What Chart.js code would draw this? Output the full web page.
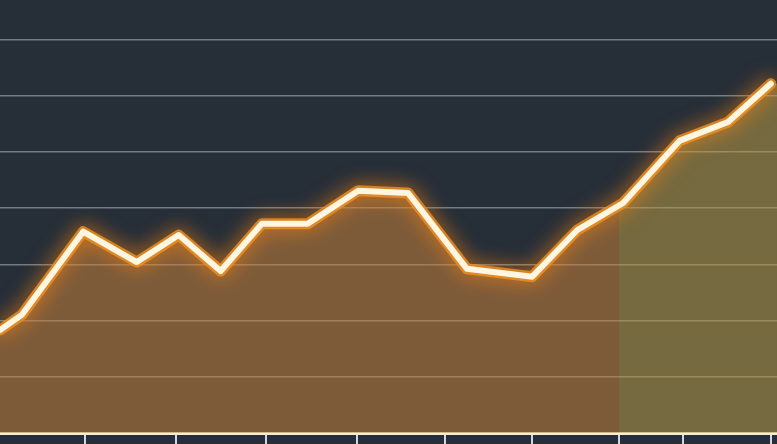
<!DOCTYPE html>
<html>
<head>
<meta charset="utf-8">
<style>
  html, body { margin: 0; padding: 0; background: #262e38; }
  #wrap { width: 777px; height: 444px; position: relative; }
</style>
<script src="https://cdn.jsdelivr.net/npm/chart.js@4/dist/chart.umd.min.js"></script>
</head>
<body>
<div id="wrap"><canvas id="c" width="777" height="444"></canvas></div>
<script>
// x positions (0–100 scale across the plot) and values (axis units, gridlines every 10)
const xValues = [0, 2.8, 10.7, 17.6, 23.0, 28.4, 33.7, 39.6, 46.1, 52.5, 60.1, 68.5, 74.3, 80.2, 87.5, 93.7, 99.2];
const yValues = [18.3, 21.0, 35.8, 30.4, 35.2, 28.8, 37.2, 37.2, 43.1, 42.7, 29.2, 27.8, 36.1, 40.9, 52.0, 55.3, 62.1];
const xTickValues = [10.9, 22.7, 34.2, 45.9, 57.3, 68.5, 79.7, 87.9, 99.2];
const yTickValues = [10, 20, 30, 40, 50, 60, 70];
const splitX = 79.7; // where the shaded (forecast) region begins
const xMax = 100;

const points = xValues.map((x, i) => ({ x: x, y: yValues[i] }));
// the shaded area continues flat to the right edge of the plot
const fillPoints = points.concat([{ x: xMax, y: yValues[yValues.length - 1] }]);

const brown = 'rgba(200,130,60,0.54)';
const olive = 'rgba(186,156,70,0.54)';

function splitFill(context) {
  const chart = context.chart;
  const area = chart.chartArea;
  if (!area) return brown;
  const xb = chart.scales.x.getPixelForValue(splitX);
  const g = chart.ctx.createLinearGradient(area.left, 0, area.right, 0);
  const f = Math.min(1, Math.max(0, (xb - area.left) / (area.right - area.left)));
  g.addColorStop(0, brown);
  g.addColorStop(f, brown);
  g.addColorStop(Math.min(1, f + 0.0001), olive);
  g.addColorStop(1, olive);
  return g;
}

const glowPlugin = {
  id: 'glow',
  beforeDatasetDraw(chart, args) {
    if (args.index === 1) {
      chart.ctx.save();
      chart.ctx.shadowColor = 'rgba(255,135,15,1)';
      chart.ctx.shadowBlur = 20;
    }
  },
  afterDatasetDraw(chart, args) {
    if (args.index === 1) chart.ctx.restore();
  }
};

new Chart(document.getElementById('c'), {
  type: 'line',
  data: {
    datasets: [
      {
        data: fillPoints,
        order: 3,
        fill: 'origin',
        backgroundColor: splitFill,
        borderWidth: 0,
        borderColor: 'rgba(0,0,0,0)',
        pointRadius: 0,
        tension: 0
      },
      {
        data: points,
        order: 2,
        fill: false,
        borderColor: 'rgba(240,145,35,0.8)',
        borderWidth: 11,
        borderJoinStyle: 'round',
        borderCapStyle: 'round',
        pointRadius: 0,
        tension: 0
      },
      {
        data: points,
        order: 1,
        fill: false,
        borderColor: '#fff6e2',
        borderWidth: 6,
        borderJoinStyle: 'round',
        borderCapStyle: 'round',
        pointRadius: 0,
        tension: 0
      }
    ]
  },
  options: {
    responsive: false,
    animation: false,
    layout: { padding: 0 },
    plugins: { legend: { display: false }, tooltip: { enabled: false } },
    scales: {
      x: {
        type: 'linear',
        min: 0,
        max: xMax,
        afterBuildTicks(scale) { scale.ticks = xTickValues.map(v => ({ value: v })); },
        ticks: { display: false },
        grid: {
          drawOnChartArea: false,
          drawTicks: true,
          tickLength: 11,
          color: '#d4d6d9',
          lineWidth: 2
        },
        border: { display: true, color: '#f4ecdc', width: 3 }
      },
      y: {
        min: 0,
        max: 77,
        afterBuildTicks(scale) { scale.ticks = yTickValues.map(v => ({ value: v })); },
        ticks: { display: false },
        grid: {
          drawTicks: false,
          color: 'rgba(150,156,164,0.7)',
          lineWidth: 1.5
        },
        border: { display: false }
      }
    }
  },
  plugins: [glowPlugin]
});
</script>
</body>
</html>
